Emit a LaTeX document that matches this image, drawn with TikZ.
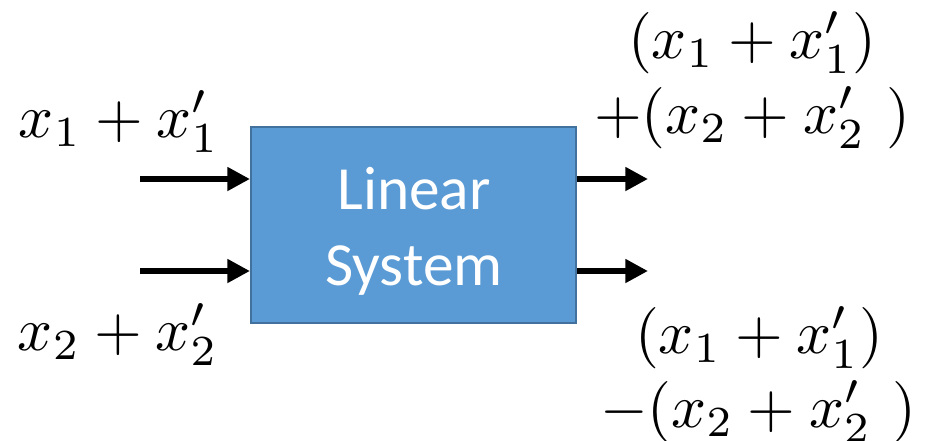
\documentclass[tikz,border=0pt]{standalone}
\usepackage{fontspec}
\setsansfont{Carlito}
\usetikzlibrary{arrows.meta}
\definecolor{boxfill}{HTML}{5B9BD5}
\definecolor{boxline}{HTML}{41719C}
\newcommand{\lblmath}[1]{\scalebox{4.6}{$#1$}}
\begin{document}
\begin{tikzpicture}[x=0.75pt,y=-0.75pt,
  sysbox/.style={draw=boxline,fill=boxfill,line width=1.5pt,minimum width=243.75pt,minimum height=147pt,inner sep=0pt},
  systext/.style={text=white,font=\sffamily\fontsize{46}{57}\selectfont,align=center,inner sep=0pt},
  mathlbl/.style={font=\normalsize,inner sep=0pt,anchor=base},
  sig/.style={line width=5pt,-{Triangle[length=17pt,width=17pt]}}]
\useasboundingbox (0,0) rectangle (928,440);
\node[sysbox] (sys) at (413.5,225) {};
\node[systext] (lbl) at (414,231) {Linear\\System};
\coordinate (in1) at (140,179);
\coordinate (in2) at (140,271);
\coordinate (out1) at (648,179);
\coordinate (out2) at (648,271);
\draw[sig] (in1) -- (in1 -| sys.west);
\draw[sig] (in2) -- (in2 -| sys.west);
\draw[sig] (out1 -| sys.east) -- (out1);
\draw[sig] (out2 -| sys.east) -- (out2);
\node[mathlbl] (l1) at (119,137) {\lblmath{x_1+x_1'}};
\node[mathlbl] (l2) at (118,350) {\lblmath{x_2+x_2'}};
\node[mathlbl] (r1a) at (752,58) {\lblmath{(x_1+x_1')}};
\node[mathlbl] (r1b) at (752,133) {\lblmath{+(x_2+x_2'\,\,)}};
\node[mathlbl] (r2a) at (759,353) {\lblmath{(x_1+x_1')}};
\node[mathlbl] (r2b) at (758,427) {\lblmath{-(x_2+x_2'\,\,)}};
\end{tikzpicture}
\end{document}
